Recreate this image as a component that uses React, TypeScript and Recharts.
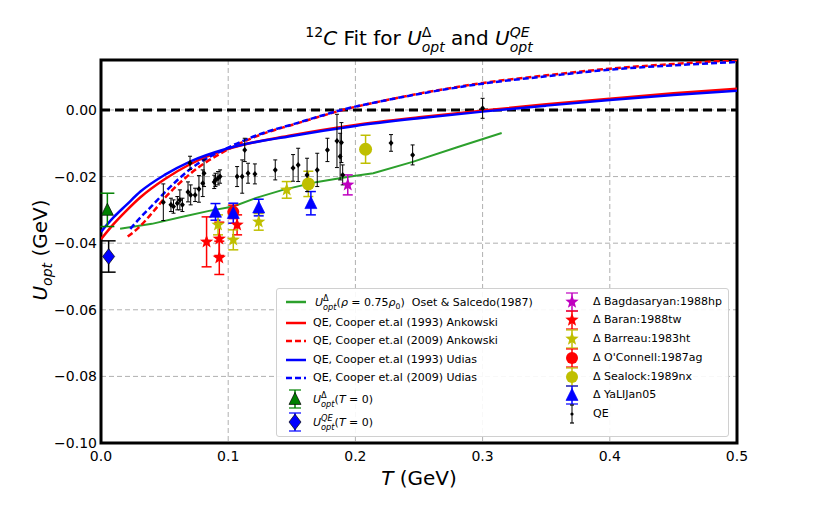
import React from 'react';
import {
  ComposedChart, Line, Scatter, XAxis, YAxis, CartesianGrid,
  ReferenceLine, ReferenceArea, ErrorBar,
} from 'recharts';

// ---------- data ----------
const xTicks = [0, 0.1, 0.2, 0.3, 0.4, 0.5];
const yTicks = [-0.1, -0.08, -0.06, -0.04, -0.02, 0];

const osetT = [0.015, 0.04, 0.065, 0.085, 0.104, 0.122, 0.143, 0.17, 0.196, 0.214, 0.245, 0.28, 0.315];
const osetU = [-0.0357, -0.0342, -0.032, -0.0303, -0.029, -0.0264, -0.024, -0.0216, -0.02, -0.019, -0.0156, -0.0112, -0.0069];

const solidT = [0, 0.01, 0.02, 0.031, 0.05, 0.07, 0.1, 0.15, 0.2, 0.25, 0.3, 0.35, 0.4, 0.45, 0.5];
const ank93U = [-0.0388, -0.0342, -0.0302, -0.0262, -0.0208, -0.0163, -0.0117, -0.0076, -0.0045, -0.0022, -0.0002, 0.0017, 0.0034, 0.005, 0.0064];
const udi93U = [-0.0366, -0.0322, -0.0285, -0.0245, -0.0195, -0.0155, -0.0115, -0.0078, -0.0048, -0.0025, -0.0005, 0.0013, 0.003, 0.0045, 0.0058];

const ank09T = [0.021, 0.03, 0.04, 0.05, 0.07, 0.1, 0.13, 0.15, 0.17, 0.19, 0.22, 0.25, 0.3, 0.35, 0.4, 0.45, 0.5];
const ank09U = [-0.038, -0.0352, -0.031, -0.0265, -0.0192, -0.0118, -0.0068, -0.0045, -0.0022, 0.0, 0.0026, 0.0049, 0.0081, 0.0104, 0.0124, 0.0138, 0.015];
const udi09T = [0.023, 0.03, 0.04, 0.05, 0.07, 0.1, 0.13, 0.15, 0.17, 0.19, 0.22, 0.25, 0.3, 0.35, 0.4, 0.45, 0.5];
const udi09U = [-0.0357, -0.0327, -0.0288, -0.0248, -0.0178, -0.0113, -0.0066, -0.0044, -0.0021, 0.0001, 0.0026, 0.0048, 0.0079, 0.0101, 0.0121, 0.0134, 0.0144];

const deltaT0 = [{ t: 0.005, u: -0.03, err: 0.005 }];
const qeT0 = [{ t: 0.006, u: -0.044, err: 0.0047 }];

const bagT = [0.194]; const bagU = [-0.0225]; const bagE = [0.003];
const baranT = [0.083, 0.093, 0.093, 0.107]; const baranU = [-0.0396, -0.0387, -0.0444, -0.0345]; const baranE = [0.0075, 0.005, 0.005, 0.003];
const barreauT = [0.092, 0.104, 0.124, 0.146]; const barreauU = [-0.0345, -0.039, -0.0336, -0.024]; const barreauE = [0.003, 0.003, 0.0025, 0.0025];
const oconT = [0.104]; const oconU = [-0.0306]; const oconE = [0.002];
const sealT = [0.163, 0.208]; const sealU = [-0.0222, -0.0118]; const sealE = [0.0038, 0.0042];
const yaliT = [0.09, 0.104, 0.124, 0.165]; const yaliU = [-0.0306, -0.031, -0.0293, -0.028]; const yaliE = [0.0025, 0.003, 0.0025, 0.0035];

const qeT = [0.049, 0.055, 0.057, 0.06, 0.062, 0.064, 0.0684, 0.07, 0.0705, 0.074, 0.077, 0.08, 0.081, 0.089, 0.09, 0.092, 0.0936, 0.107, 0.111, 0.113, 0.1156, 0.121, 0.137, 0.151, 0.155, 0.162, 0.17, 0.178, 0.1855, 0.188, 0.189, 0.19, 0.228, 0.245, 0.3];
const qeU = [-0.0277, -0.0285, -0.029, -0.028, -0.027, -0.0285, -0.0246, -0.0159, -0.0255, -0.0255, -0.0237, -0.022, -0.019, -0.0216, -0.021, -0.0205, -0.02, -0.02, -0.02, -0.012, -0.019, -0.0192, -0.018, -0.0174, -0.0165, -0.0195, -0.018, -0.012, -0.0093, -0.014, -0.0098, -0.0195, -0.0099, -0.0135, 0.0005];
const qeE = [0.0055, 0.002, 0.002, 0.002, 0.003, 0.002, 0.003, 0.002, 0.003, 0.002, 0.004, 0.004, 0.004, 0.002, 0.002, 0.002, 0.002, 0.003, 0.005, 0.0035, 0.003, 0.003, 0.003, 0.004, 0.005, 0.005, 0.005, 0.0035, 0.008, 0.007, 0.006, 0.003, 0.0025, 0.003, 0.003];

const pts = (t: number[], u: number[]) => t.map((x, i) => ({ t: x, u: u[i] }));
const errPts = (t: number[], u: number[], e: number[]) => t.map((x, i) => ({ t: x, u: u[i], err: e[i] }));

// ---------- styling ----------
const FONT = 'DejaVu Sans';
const RED = '#ff0000';
const BLUE = '#0000ff';
const GREEN_LINE = '#2ca02c';
const GREEN = '#008000';
const YEL = '#bfbf00';
const MAG = '#bf00bf';

function marker(kind: string, cx: number, cy: number, color: string, s: number, edge?: string) {
  if (kind === 'tri') {
    return <polygon points={`${cx},${cy - s * 1.1} ${cx - s},${cy + s * 0.9} ${cx + s},${cy + s * 0.9}`} fill={color} stroke={edge || color} strokeWidth={0.7} />;
  }
  if (kind === 'star') {
    const p: string[] = [];
    for (let i = 0; i < 10; i++) {
      const r = i % 2 === 0 ? s : s * 0.42;
      const a = -Math.PI / 2 + (i * Math.PI) / 5;
      p.push(`${cx + r * Math.cos(a)},${cy + r * Math.sin(a)}`);
    }
    return <polygon points={p.join(' ')} fill={color} />;
  }
  if (kind === 'circle') return <circle cx={cx} cy={cy} r={s} fill={color} />;
  if (kind === 'diamond') {
    return <polygon points={`${cx},${cy - s * 1.3} ${cx + s},${cy} ${cx},${cy + s * 1.3} ${cx - s},${cy}`} fill={color} stroke={edge || color} strokeWidth={0.7} />;
  }
  if (kind === 'dot') {
    return <polygon points={`${cx},${cy - 3} ${cx + 2.5},${cy} ${cx},${cy + 3} ${cx - 2.5},${cy}`} fill="#000" />;
  }
  return null;
}

const shapeOf = (kind: string, color: string, s: number, edge?: string) => (p: any) =>
  <g>{marker(kind, p.cx, p.cy, color, s, edge)}</g>;

const fmtY = (v: number) => (v === 0 ? '0.00' : '\u2212' + Math.abs(v).toFixed(2));
const fmtX = (v: number) => v.toFixed(1);

const YTick = (p: any) => (
  <text x={p.x - 4} y={p.y} dy="0.36em" textAnchor="end" fontSize={14} fontFamily={FONT} fill="#000">
    {fmtY(p.payload.value)}
  </text>
);
const XTick = (p: any) => (
  <text x={p.x} y={p.y + 7} dy="0.8em" textAnchor="middle" fontSize={14} fontFamily={FONT} fill="#000">
    {fmtX(p.payload.value)}
  </text>
);

function SS({ base, sup, sub, size }: { base: string; sup: string; sub: string; size?: string }) {
  return (
    <span style={{ whiteSpace: 'nowrap' }}>
      <i>{base}</i>
      <span style={{ display: 'inline-block', verticalAlign: '-0.55em', fontSize: size || '0.7em', lineHeight: '1.1em', textAlign: 'left' }}>
        <span style={{ display: 'block', fontStyle: sup === 'Δ' ? 'normal' : 'italic' }}>{sup}</span>
        <span style={{ display: 'block', fontStyle: 'italic' }}>{sub}</span>
      </span>
    </span>
  );
}

function LineIcon({ color, dashed }: { color: string; dashed?: boolean }) {
  return (
    <svg width={20} height={10} style={{ position: 'absolute', left: 9, top: -5 }}>
      <line x1={0} y1={5} x2={20} y2={5} stroke={color} strokeWidth={2.5} strokeDasharray={dashed ? '6 3' : undefined} />
    </svg>
  );
}

function MarkIcon({ kind, color, s, edge, left }: { kind: string; color: string; s: number; edge?: string; left: number }) {
  const bar = kind === 'dot' ? '#000' : color;
  const capW = kind === 'dot' ? 2 : 6;
  return (
    <svg width={20} height={24} style={{ position: 'absolute', left: left - 10, top: -12 }}>
      <line x1={10} y1={3} x2={10} y2={21} stroke={bar} strokeWidth={kind === 'dot' ? 1 : 1.5} />
      <line x1={10 - capW} y1={3} x2={10 + capW} y2={3} stroke={bar} strokeWidth={1.2} />
      <line x1={10 - capW} y1={21} x2={10 + capW} y2={21} stroke={bar} strokeWidth={1.2} />
      {kind === 'dot'
        ? <circle cx={10} cy={12} r={1.6} fill="#000" />
        : marker(kind, 10, 12, color, s, edge)}
    </svg>
  );
}

const Row = ({ top, children }: { top: number; children: React.ReactNode }) => (
  <div style={{ position: 'absolute', left: 0, top, width: 0, height: 0 }}>{children}</div>
);
const Txt = ({ left, children }: { left: number; children: React.ReactNode }) => (
  <div style={{ position: 'absolute', left, top: -8, whiteSpace: 'nowrap', lineHeight: '16px' }}>{children}</div>
);

export default function App() {
  return (
    <div style={{ position: 'relative', width: 800, height: 490, fontFamily: FONT, color: '#000' }}>
      <ComposedChart width={800} height={490} margin={{ top: 52, right: 71, bottom: 0, left: 0 }}>
        <CartesianGrid stroke="#b0b0b0" strokeDasharray="5 3" strokeWidth={1} />
        <XAxis
          dataKey="t" type="number" domain={[0, 0.5]} ticks={xTicks} allowDataOverflow
          height={55} tickLine={false} axisLine={false} tickSize={0} tickMargin={0}
          tick={XTick}
        />
        <YAxis
          dataKey="u" type="number" domain={[-0.1, 0.015]} ticks={yTicks} allowDataOverflow
          width={93} tickLine={false} axisLine={false} tickSize={0} tickMargin={0}
          tick={YTick}
        />
        <ReferenceLine y={0} stroke="#000" strokeWidth={3} strokeDasharray="9 5" />
        <Line data={pts(osetT, osetU)} dataKey="u" stroke={GREEN_LINE} strokeWidth={2} dot={false} isAnimationActive={false} type="linear" />
        <Line data={pts(solidT, ank93U)} dataKey="u" stroke={RED} strokeWidth={2.5} dot={false} isAnimationActive={false} type="monotone" />
        <Line data={pts(ank09T, ank09U)} dataKey="u" stroke={RED} strokeWidth={2.5} strokeDasharray="6 3" dot={false} isAnimationActive={false} type="monotone" />
        <Line data={pts(solidT, udi93U)} dataKey="u" stroke={BLUE} strokeWidth={2.5} dot={false} isAnimationActive={false} type="monotone" />
        <Line data={pts(udi09T, udi09U)} dataKey="u" stroke={BLUE} strokeWidth={2.5} strokeDasharray="6 3" dot={false} isAnimationActive={false} type="monotone" />

        <Scatter data={deltaT0} dataKey="u" shape={shapeOf('tri', GREEN, 6, '#000')} isAnimationActive={false}>
          <ErrorBar dataKey="err" direction="y" width={7} stroke={GREEN} strokeWidth={1.5} />
        </Scatter>
        <Scatter data={qeT0} dataKey="u" shape={shapeOf('diamond', BLUE, 6, '#000')} isAnimationActive={false}>
          <ErrorBar dataKey="err" direction="y" width={7} stroke="#000" strokeWidth={1.5} />
        </Scatter>
        <Scatter data={errPts(bagT, bagU, bagE)} dataKey="u" shape={shapeOf('star', MAG, 7)} isAnimationActive={false}>
          <ErrorBar dataKey="err" direction="y" width={5} stroke={MAG} strokeWidth={1.5} />
        </Scatter>
        <Scatter data={errPts(baranT, baranU, baranE)} dataKey="u" shape={shapeOf('star', RED, 7)} isAnimationActive={false}>
          <ErrorBar dataKey="err" direction="y" width={5} stroke={RED} strokeWidth={1.5} />
        </Scatter>
        <Scatter data={errPts(barreauT, barreauU, barreauE)} dataKey="u" shape={shapeOf('star', YEL, 7)} isAnimationActive={false}>
          <ErrorBar dataKey="err" direction="y" width={5} stroke={YEL} strokeWidth={1.5} />
        </Scatter>
        <Scatter data={errPts(oconT, oconU, oconE)} dataKey="u" shape={shapeOf('circle', RED, 6)} isAnimationActive={false}>
          <ErrorBar dataKey="err" direction="y" width={5} stroke={RED} strokeWidth={1.5} />
        </Scatter>
        <Scatter data={errPts(sealT, sealU, sealE)} dataKey="u" shape={shapeOf('circle', YEL, 6.5)} isAnimationActive={false}>
          <ErrorBar dataKey="err" direction="y" width={5} stroke={YEL} strokeWidth={1.5} />
        </Scatter>
        <Scatter data={errPts(yaliT, yaliU, yaliE)} dataKey="u" shape={shapeOf('tri', BLUE, 6)} isAnimationActive={false}>
          <ErrorBar dataKey="err" direction="y" width={5} stroke={BLUE} strokeWidth={1.5} />
        </Scatter>
        <Scatter data={errPts(qeT, qeU, qeE)} dataKey="u" shape={shapeOf('dot', '#000', 3)} isAnimationActive={false}>
          <ErrorBar dataKey="err" direction="y" width={2} stroke="#000" strokeWidth={1} />
        </Scatter>

        <ReferenceArea x1={0} x2={0.5} y1={-0.1} y2={0.015} fill="none" stroke="#000" strokeWidth={3} ifOverflow="visible" />
      </ComposedChart>

      {/* title */}
      <div style={{ position: 'absolute', left: 0, top: 10, width: 822, textAlign: 'center', fontSize: 20, lineHeight: '28px' }}>
        <sup style={{ fontSize: '0.7em' }}>12</sup><i>C</i> Fit for <SS base="U" sup="Δ" sub="opt" /> and <SS base="U" sup="QE" sub="opt" />
      </div>

      {/* x label */}
      <div style={{ position: 'absolute', left: 0, top: 457, width: 822, textAlign: 'center', fontSize: 20, lineHeight: '26px' }}>
        <i>T</i> (GeV)
      </div>

      {/* y label */}
      <div style={{ position: 'absolute', left: 32 - 100, top: 242 - 15, width: 200, height: 30, lineHeight: '30px', textAlign: 'center', fontSize: 20, transform: 'rotate(-90deg)' }}>
        <i>U</i><sub style={{ fontSize: '0.7em', fontStyle: 'italic' }}>opt</sub> (GeV)
      </div>

      {/* legend */}
      <div style={{ position: 'absolute', left: 268, top: 280, width: 453, height: 149, background: 'rgba(255,255,255,0.9)', border: '1px solid #d0d0d0', borderRadius: 3, boxSizing: 'border-box', fontSize: 11 }}>
        <Row top={13}><LineIcon color={GREEN_LINE} /><Txt left={38}><SS base="U" sup="Δ" sub="opt" size="0.75em" /><span>(<i>ρ</i> = 0.75<i>ρ</i><sub style={{ fontSize: '0.7em' }}>0</sub>)&nbsp;&nbsp;Oset &amp; Salcedo(1987)</span></Txt></Row>
        <Row top={34}><LineIcon color={RED} /><Txt left={36}>QE, Cooper et.al (1993) Ankowski</Txt></Row>
        <Row top={52}><LineIcon color={RED} dashed /><Txt left={36}>QE, Cooper et.al (2009) Ankowski</Txt></Row>
        <Row top={71}><LineIcon color={BLUE} /><Txt left={36}>QE, Cooper et.al (1993) Udias</Txt></Row>
        <Row top={89}><LineIcon color={BLUE} dashed /><Txt left={36}>QE, Cooper et.al (2009) Udias</Txt></Row>
        <Row top={110}><MarkIcon kind="tri" color={GREEN} s={6} edge="#000" left={18} /><Txt left={36}><SS base="U" sup="Δ" sub="opt" size="0.75em" />(<i>T</i> = 0)</Txt></Row>
        <Row top={133}><MarkIcon kind="diamond" color={BLUE} s={6} edge="#000" left={18} /><Txt left={36}><SS base="U" sup="QE" sub="opt" size="0.75em" />(<i>T</i> = 0)</Txt></Row>

        <Row top={13}><MarkIcon kind="star" color={MAG} s={7} left={295} /><Txt left={316}>Δ Bagdasaryan:1988hp</Txt></Row>
        <Row top={31}><MarkIcon kind="star" color={RED} s={7} left={295} /><Txt left={316}>Δ Baran:1988tw</Txt></Row>
        <Row top={50}><MarkIcon kind="star" color={YEL} s={7} left={295} /><Txt left={316}>Δ Barreau:1983ht</Txt></Row>
        <Row top={69}><MarkIcon kind="circle" color={RED} s={6} left={295} /><Txt left={316}>Δ O'Connell:1987ag</Txt></Row>
        <Row top={88}><MarkIcon kind="circle" color={YEL} s={6} left={295} /><Txt left={316}>Δ Sealock:1989nx</Txt></Row>
        <Row top={106}><MarkIcon kind="tri" color={BLUE} s={6} left={295} /><Txt left={316}>Δ YaLIJan05</Txt></Row>
        <Row top={125}><MarkIcon kind="dot" color="#000" s={2} left={295} /><Txt left={316}>QE</Txt></Row>
      </div>
    </div>
  );
}
